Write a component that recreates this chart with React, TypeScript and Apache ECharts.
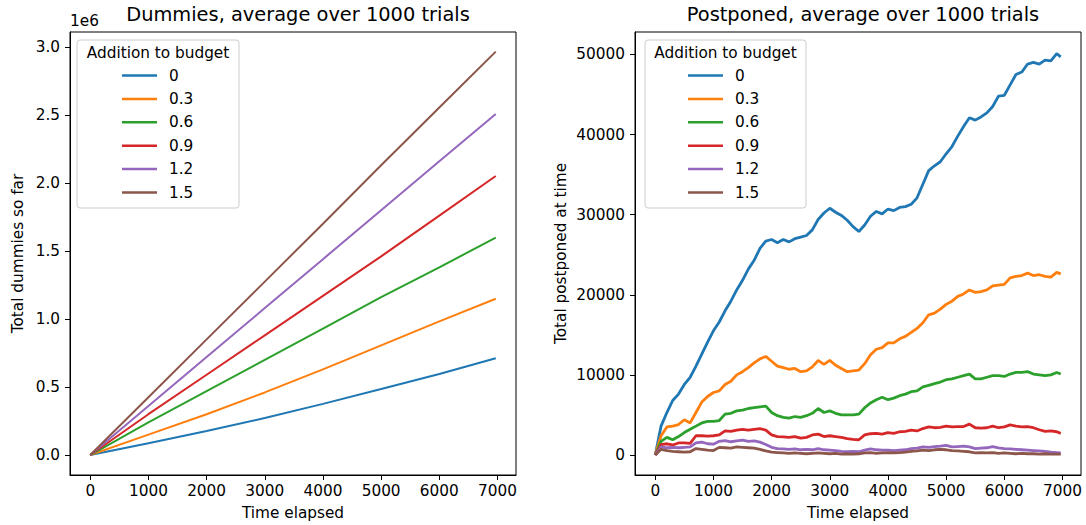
import React, { useEffect, useRef } from "react";
import * as echarts from "echarts";

const FONT = "'DejaVu Sans', Verdana, sans-serif";
const COLORS = ["#1f77b4", "#ff7f0e", "#2ca02c", "#d62728", "#9467bd", "#8c564b"];
const NAMES = ["0", "0.3", "0.6", "0.9", "1.2", "1.5"];

const X_TICKS = [0, 1000, 2000, 3000, 4000, 5000, 6000, 7000];
const Y_TICKS_LEFT = [0, 500000, 1000000, 1500000, 2000000, 2500000, 3000000];
const Y_TICKS_RIGHT = [0, 10000, 20000, 30000, 40000, 50000];

// Left: total dummies so far
const T_LEFT = [0, 1000, 2000, 3000, 4000, 5000, 6000, 6970];
const DUMMIES_0 = [0, 86000, 176000, 272000, 376000, 485000, 596000, 711000];
const DUMMIES_03 = [0, 150000, 300000, 460000, 630000, 806000, 982000, 1149000];
const DUMMIES_06 = [0, 240000, 470000, 700000, 930000, 1160000, 1380000, 1598000];
const DUMMIES_09 = [0, 300000, 590000, 880000, 1170000, 1460000, 1760000, 2051000];
const DUMMIES_12 = [0, 360000, 720000, 1080000, 1440000, 1800000, 2160000, 2507000];
const DUMMIES_15 = [0, 425000, 850000, 1275000, 1700000, 2130000, 2555000, 2966000];

// Right: total postponed at time
const T_RIGHT = [
  0, 100, 200, 300, 400, 500, 600, 700, 800, 900,
  1000, 1100, 1200, 1300, 1400, 1500, 1600, 1700, 1800, 1900,
  2000, 2100, 2200, 2300, 2400, 2500, 2600, 2700, 2800, 2900,
  3000, 3100, 3200, 3300, 3400, 3500, 3600, 3700, 3800, 3900,
  4000, 4100, 4200, 4300, 4400, 4500, 4600, 4700, 4800, 4900,
  5000, 5100, 5200, 5300, 5400, 5500, 5600, 5700, 5800, 5900,
  6000, 6100, 6200, 6300, 6400, 6500, 6600, 6700, 6800, 6900,
  6970,
];
const POSTPONED_0 = [
  0, 3600, 5300, 6800, 7600, 8800, 9700, 11100, 12600, 14100,
  15500, 16600, 18000, 19200, 20600, 21800, 23200, 24300, 25800, 26700,
  26900, 26500, 26900, 26600, 27000, 27200, 27400, 28100, 29400, 30200,
  30800, 30300, 29900, 29300, 28500, 27900, 28700, 29800, 30400, 30100,
  30700, 30500, 30900, 31000, 31300, 32100, 33800, 35500, 36100, 36600,
  37600, 38500, 39800, 41000, 42100, 41800, 42200, 42700, 43500, 44800,
  44900, 46200, 47500, 47800, 48800, 49000, 48800, 49300, 49200, 50100,
  49700,
];
const POSTPONED_03 = [
  0, 2400, 3500, 3600, 3800, 4400, 4000, 5300, 6600, 7300,
  7800, 8000, 8800, 9200, 10000, 10400, 10900, 11500, 12000, 12300,
  11700, 11100, 10900, 10700, 10800, 10400, 10500, 11000, 11800, 11300,
  11800, 11200, 10800, 10400, 10500, 10600, 11400, 12500, 13200, 13400,
  14000, 14000, 14500, 14800, 15300, 15800, 16500, 17500, 17700, 18200,
  18800, 19200, 19800, 20100, 20600, 20300, 20400, 20600, 21100, 21200,
  21300, 22100, 22300, 22400, 22700, 22400, 22500, 22300, 22200, 22800,
  22600,
];
const POSTPONED_06 = [
  0, 1700, 2200, 1900, 2300, 2800, 3200, 3600, 4000, 4200,
  4200, 4300, 5100, 5200, 5500, 5600, 5800, 5900, 6000, 6100,
  5300, 4900, 4700, 4600, 4800, 4700, 4900, 5200, 5800, 5300,
  5500, 5200, 5000, 5000, 5000, 5100, 5900, 6500, 6900, 7200,
  6900, 7100, 7400, 7600, 7900, 8000, 8500, 8700, 8900, 9100,
  9400, 9500, 9700, 9900, 10100, 9500, 9500, 9700, 9900, 9900,
  9800, 10100, 10300, 10300, 10400, 10100, 10000, 9900, 10000, 10300,
  10100,
];
const POSTPONED_09 = [
  0, 1300, 1400, 1250, 1500, 1500, 1450, 2400, 2400, 2350,
  2400, 2500, 3000, 2950, 3100, 3200, 3100, 3200, 3300, 3100,
  2500, 2300, 2250, 2200, 2300, 2100, 2200, 2500, 2600, 2300,
  2400, 2300, 2200, 2050, 1950, 1900, 2500, 2650, 2700, 2600,
  2800, 2700, 2900, 2950, 3100, 3000, 3300, 3500, 3400, 3450,
  3600, 3500, 3550, 3550, 3850, 3400, 3350, 3400, 3600, 3400,
  3500, 3750, 3600, 3500, 3550, 3400, 3150, 2950, 3000, 2900,
  2700,
];
const POSTPONED_12 = [
  0, 1000, 900, 950, 900, 950, 1000, 1500, 1600, 1400,
  1350, 1700, 1800, 1650, 1750, 1850, 1700, 1750, 1600, 1300,
  950, 800, 750, 700, 750, 650, 700, 650, 800, 650,
  600, 550, 450, 400, 450, 400, 600, 750, 650, 600,
  600, 550, 600, 650, 800, 850, 1000, 950, 1050, 1100,
  1200, 1000, 1050, 1100, 1000, 800, 850, 900, 1050, 900,
  800, 750, 700, 650, 600, 550, 500, 450, 350, 300,
  250,
];
const POSTPONED_15 = [
  0, 700, 550, 450, 400, 350, 400, 800, 700, 600,
  550, 950, 900, 850, 1000, 950, 900, 850, 700, 500,
  350, 300, 250, 200, 250, 200, 150, 200, 250, 200,
  150, 200, 100, 150, 100, 150, 250, 300, 200, 250,
  300, 250, 300, 350, 450, 500, 600, 550, 650, 700,
  650, 550, 500, 450, 400, 250, 300, 250, 300, 200,
  250, 200, 150, 200, 150, 150, 100, 150, 100, 100,
  100,
];

const LEFT_SERIES = [DUMMIES_0, DUMMIES_03, DUMMIES_06, DUMMIES_09, DUMMIES_12, DUMMIES_15];
const RIGHT_SERIES = [POSTPONED_0, POSTPONED_03, POSTPONED_06, POSTPONED_09, POSTPONED_12, POSTPONED_15];

const pair = (ts: number[], vs: number[]) => vs.map((v, i) => [ts[i], v]);

const LABEL = 15.3;
const TITLE = 19.4;

function makeXAxis(gridIndex: number) {
  return {
    type: "value",
    gridIndex,
    min: -348,
    max: 7318,
    axisLine: { show: true, onZero: false, lineStyle: { color: "#000", width: 1 } },
    axisTick: { show: true, length: 5, customValues: X_TICKS, lineStyle: { color: "#000", width: 1 } },
    axisLabel: {
      customValues: X_TICKS,
      color: "#000",
      fontSize: LABEL,
      fontFamily: FONT,
      margin: 8,
      formatter: (v: number) => String(v),
    },
    splitLine: { show: false },
    name: "Time elapsed",
    nameLocation: "middle",
    nameGap: 30,
    nameTextStyle: { color: "#000", fontSize: LABEL, fontFamily: FONT },
  };
}

function makeLegend(left: number) {
  return {
    data: NAMES,
    orient: "vertical",
    left,
    top: 67,
    padding: 0,
    itemWidth: 35,
    itemHeight: 2.5,
    itemGap: 6.4,
    icon: "rect",
    selectedMode: false,
    textStyle: { color: "#000", fontSize: LABEL, fontFamily: FONT, lineHeight: 17, padding: [0, 0, 0, 7] },
  };
}

function legendBox(x: number, w: number) {
  return [
    {
      type: "rect",
      shape: { x, y: 40, width: w, height: 168, r: 3 },
      style: { fill: "rgba(255,255,255,0.8)", stroke: "#cccccc", lineWidth: 1 },
      z: 3,
    },
    {
      type: "text",
      x: x + w / 2,
      y: 53,
      style: {
        text: "Addition to budget",
        fontSize: LABEL,
        fontFamily: FONT,
        fill: "#000",
        align: "center",
        verticalAlign: "middle",
      },
      z: 5,
    },
  ];
}

export default function App() {
  const ref = useRef<HTMLDivElement>(null);

  useEffect(() => {
    if (!ref.current) return;
    const chart = echarts.init(ref.current, undefined, { renderer: "svg" });

    const series: any[] = [];
    LEFT_SERIES.forEach((vs, i) => {
      series.push({
        type: "line",
        name: NAMES[i],
        xAxisIndex: 0,
        yAxisIndex: 0,
        data: pair(T_LEFT, vs),
        showSymbol: false,
        symbol: "none",
        lineStyle: { color: COLORS[i], width: 2 },
        itemStyle: { color: COLORS[i] },
        z: 2,
      });
    });
    RIGHT_SERIES.forEach((vs, i) => {
      series.push({
        type: "line",
        name: NAMES[i],
        xAxisIndex: 1,
        yAxisIndex: 1,
        data: pair(T_RIGHT, vs),
        showSymbol: false,
        symbol: "none",
        lineStyle: { color: COLORS[i], width: 2.8 },
        itemStyle: { color: COLORS[i] },
        z: 2,
      });
    });

    chart.setOption({
      animation: false,
      backgroundColor: "#fff",
      textStyle: { fontFamily: FONT },
      color: COLORS,
      title: [
        {
          text: "Dummies, average over 1000 trials",
          left: 293,
          top: 0,
          textAlign: "center",
          textStyle: { fontSize: TITLE, fontWeight: "normal", color: "#000", fontFamily: FONT },
        },
        {
          text: "Postponed, average over 1000 trials",
          left: 858,
          top: 0,
          textAlign: "center",
          textStyle: { fontSize: TITLE, fontWeight: "normal", color: "#000", fontFamily: FONT },
        },
      ],
      grid: [
        { left: 70, top: 32, width: 446, height: 443, show: true, borderColor: "#000", borderWidth: 1, containLabel: false },
        { left: 635, top: 32, width: 446, height: 443, show: true, borderColor: "#000", borderWidth: 1, containLabel: false },
      ],
      xAxis: [makeXAxis(0), makeXAxis(1)],
      yAxis: [
        {
          type: "value",
          gridIndex: 0,
          min: -147000,
          max: 3110000,
          axisLine: { show: true, onZero: false, lineStyle: { color: "#000", width: 1 } },
          axisTick: { show: true, length: 5, customValues: Y_TICKS_LEFT, lineStyle: { color: "#000", width: 1 } },
          axisLabel: {
            customValues: Y_TICKS_LEFT,
            color: "#000",
            fontSize: LABEL,
            fontFamily: FONT,
            margin: 10,
            formatter: (v: number) => (v / 1e6).toFixed(1),
          },
          splitLine: { show: false },
          name: "Total dummies so far",
          nameLocation: "middle",
          nameGap: 45,
          nameTextStyle: { color: "#000", fontSize: LABEL, fontFamily: FONT },
        },
        {
          type: "value",
          gridIndex: 1,
          min: -2500,
          max: 52800,
          axisLine: { show: true, onZero: false, lineStyle: { color: "#000", width: 1 } },
          axisTick: { show: true, length: 5, customValues: Y_TICKS_RIGHT, lineStyle: { color: "#000", width: 1 } },
          axisLabel: {
            customValues: Y_TICKS_RIGHT,
            color: "#000",
            fontSize: LABEL,
            fontFamily: FONT,
            margin: 10,
            formatter: (v: number) => String(v),
          },
          splitLine: { show: false },
          name: "Total postponed at time",
          nameLocation: "middle",
          nameGap: 67,
          nameTextStyle: { color: "#000", fontSize: LABEL, fontFamily: FONT },
        },
      ],
      legend: [makeLegend(122), makeLegend(688)],
      graphic: [
        ...legendBox(77, 162),
        ...legendBox(645, 161),
        {
          type: "text",
          x: 70,
          y: 21,
          style: { text: "1e6", fontSize: LABEL, fontFamily: FONT, fill: "#000", align: "left", verticalAlign: "middle" },
          z: 5,
        },
      ],
      series,
    });

    return () => chart.dispose();
  }, []);

  return (
    <div
      ref={ref}
      style={{ position: "fixed", left: 0, top: 0, width: 1086, height: 525, background: "#fff" }}
    />
  );
}
